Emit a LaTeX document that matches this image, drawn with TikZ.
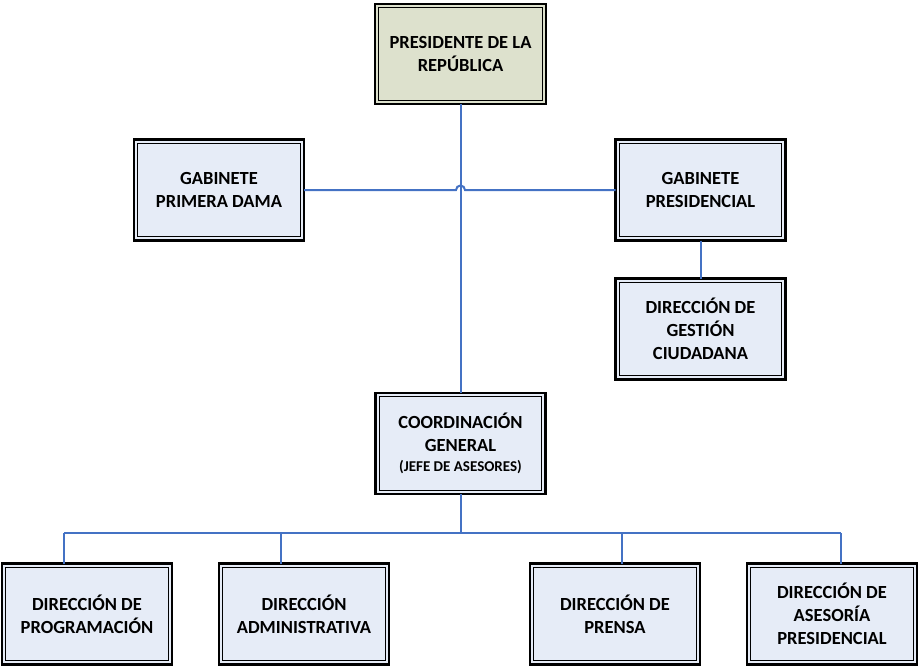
\documentclass[tikz,border=0pt]{standalone}
\usepackage{fontspec}
\setmainfont{Carlito}
\definecolor{lineblue}{RGB}{68,114,196}
\definecolor{presfill}{RGB}{221,225,205}
\definecolor{boxfill}{RGB}{230,236,247}
\begin{document}
\begin{tikzpicture}[x=1pt,y=1pt,
  orgbox/.style={draw=black, line width=2.2pt, fill=boxfill, minimum width=170pt, minimum height=101pt,
    align=center, font=\fontsize{18.5}{23}\selectfont\bfseries, inner sep=2pt, outer sep=0pt},
  conn/.style={draw=lineblue, line width=2pt}]
\useasboundingbox (0,0) rectangle (918,-666);
\node[orgbox, fill=presfill, minimum width=171pt, minimum height=100pt] (pres) at (460.5,-54) {PRESIDENTE DE LA\\REPÚBLICA};
\node[orgbox] (gpd) at (219,-190) {GABINETE\\PRIMERA DAMA};
\node[orgbox] (gp) at (700.5,-190) {GABINETE\\PRESIDENCIAL};
\node[orgbox] (dgc) at (700.5,-329) {DIRECCIÓN DE\\GESTIÓN\\CIUDADANA};
\node[orgbox] (cg) at (460.5,-443.5) {COORDINACIÓN\\GENERAL\\[-3pt]{\fontsize{15}{17}\selectfont (JEFE DE ASESORES)}};
\node[orgbox] (dp) at (87,-614) {DIRECCIÓN DE\\PROGRAMACIÓN};
\node[orgbox] (da) at (304,-614) {DIRECCIÓN\\ADMINISTRATIVA};
\node[orgbox] (dpr) at (615,-614) {DIRECCIÓN DE\\PRENSA};
\node[orgbox] (dap) at (832,-614) {DIRECCIÓN DE\\ASESORÍA\\PRESIDENCIAL};
\foreach \n in {pres,gpd,gp,dgc,cg,dp,da,dpr,dap}
  \draw[line width=0.9pt] ([xshift=3.8pt,yshift=-3.8pt]\n.north west) rectangle ([xshift=-3.8pt,yshift=3.8pt]\n.south east);
% connectors
\draw[conn] (pres.south) -- (cg.north);
\draw[conn] (gpd.east) -- (456,-190) arc[start angle=180,end angle=0,radius=4.5] -- (gp.west);
\draw[conn] (gp.south) -- (dgc.north);
\coordinate (bus) at (460.5,-533);
\draw[conn] (cg.south) -- (bus);
\draw[conn] (64,-533) -- (840.5,-533);
\draw[conn] (64,-533) -- (64,-563.5);
\draw[conn] (281,-533) -- (281,-563.5);
\draw[conn] (622,-533) -- (622,-563.5);
\draw[conn] (840.5,-533) -- (840.5,-563.5);
\end{tikzpicture}
\end{document}
